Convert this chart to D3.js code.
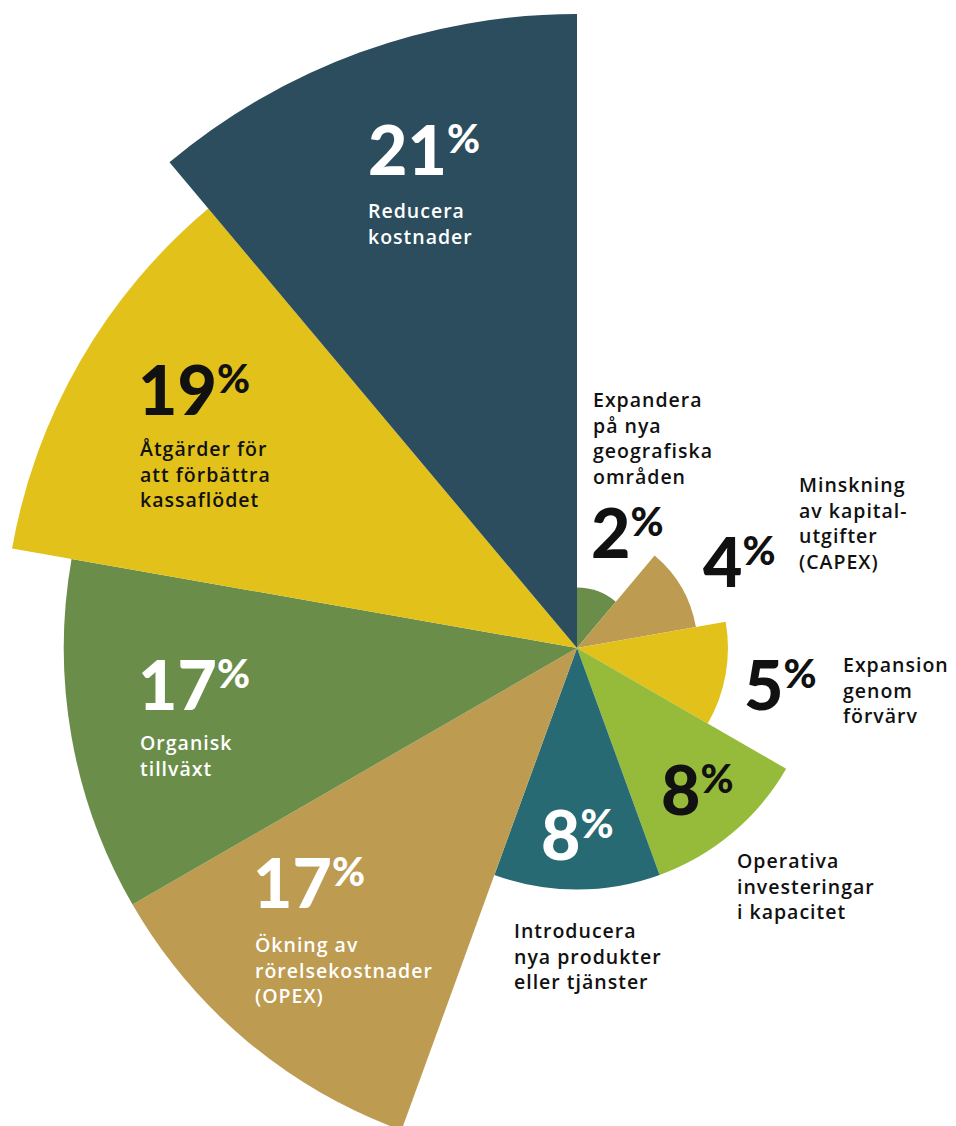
<!DOCTYPE html>
<html>
<head>
<meta charset="utf-8">
<script src="https://cdn.jsdelivr.net/npm/d3@7"></script>
<style>
  html, body { margin: 0; padding: 0; background: #fff; }
  svg { display: block; }
  .num { font-family: "Lato", "Open Sans", sans-serif; font-weight: 900; }
  .lbl { font-family: "Open Sans", "Lato", sans-serif; font-weight: 600; }
</style>
</head>
<body>
<svg id="chart" width="956" height="1126"></svg>
<script>
// Priorities, clockwise from 12 o'clock
const categories = [
  ["Expandera", "på nya", "geografiska", "områden"],
  ["Minskning", "av kapital-", "utgifter", "(CAPEX)"],
  ["Expansion", "genom", "förvärv"],
  ["Operativa", "investeringar", "i kapacitet"],
  ["Introducera", "nya produkter", "eller tjänster"],
  ["Ökning av", "rörelsekostnader", "(OPEX)"],
  ["Organisk", "tillväxt"],
  ["Åtgärder för", "att förbättra", "kassaflödet"],
  ["Reducera", "kostnader"]
];
const values = [2, 4, 5, 8, 8, 17, 17, 19, 21];
const colors = ["#6b8d4a", "#bd9b51", "#e1c11a", "#96bb3b", "#286a73",
                "#bd9b51", "#6b8d4a", "#e1c11a", "#2b4d5d"];

// Label placement: [numX, numBaseline, labelX, firstLineBaseline, numColor, labelColor]
const placement = [
  [591, 558, 593, 407, "#111", "#111"],
  [703, 587, 799, 492, "#111", "#111"],
  [744, 710, 843, 672, "#111", "#111"],
  [661, 815, 737, 868, "#111", "#111"],
  [541, 860, 514, 938, "#fff", "#111"],
  [253, 908, 255, 952, "#fff", "#fff"],
  [138, 710, 140, 750, "#fff", "#fff"],
  [138, 415, 140, 456, "#111", "#111"],
  [368, 175, 368, 218, "#fff", "#fff"]
];

const svg = d3.select("#chart");
const cx = 577, cy = 648;

const r = d3.scaleLinear().domain([0, 21]).range([0, 634]);
const angle = d3.scaleBand()
  .domain(d3.range(values.length))
  .range([0, 2 * Math.PI])
  .paddingInner(0).paddingOuter(0);

const arc = d3.arc()
  .innerRadius(0)
  .outerRadius((d, i) => r(d))
  .startAngle((d, i) => angle(i))
  .endAngle((d, i) => angle(i) + angle.bandwidth());

const g = svg.append("g").attr("transform", `translate(${cx},${cy})`);
g.selectAll("path")
  .data(values)
  .join("path")
  .attr("d", (d, i) => arc(d, i))
  .attr("fill", (d, i) => colors[i]);

// Percent figures with raised % sign
const nums = svg.append("g");
values.forEach((v, i) => {
  const p = placement[i];
  const t = nums.append("text")
    .attr("class", "num")
    .attr("x", p[0])
    .attr("y", p[1])
    .attr("fill", p[4])
    .attr("font-size", 68);
  t.append("tspan").text(v);
  t.append("tspan")
    .attr("font-size", 40)
    .attr("dy", -22)
    .attr("dx", 0)
    .text("%");

  const l = svg.append("text")
    .attr("class", "lbl")
    .attr("fill", p[5])
    .attr("font-size", 19.5)
    .attr("letter-spacing", 1);
  categories[i].forEach((line, k) => {
    l.append("tspan")
      .attr("x", p[2])
      .attr("y", p[3] + k * 25.5)
      .text(line);
  });
});
</script>
</body>
</html>
